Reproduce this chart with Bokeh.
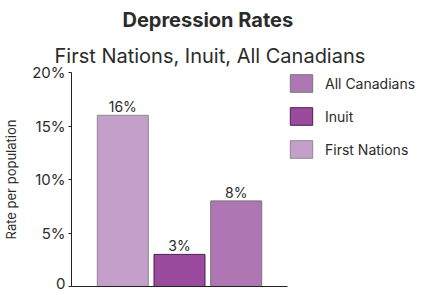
from bokeh.plotting import figure
from bokeh.models import (FactorRange, Range1d, FixedTicker, Title, Legend, LegendItem,
                          ColumnDataSource, LabelSet)
from bokeh.core.properties import value
from bokeh.embed import file_html
from bokeh.resources import INLINE

categories = ["First Nations", "Inuit", "All Canadians"]
rates = [16, 3, 8]
value_labels = ["16%", "3%", "8%"]
fill_colors = ["#C49FCA", "#9B4B9E", "#AE77B3"]
line_colors = ["#8a8a8a", "#4a2050", "#777777"]
y_ticks = [0, 5, 10, 15, 20]
y_tick_labels = {0: "0", 5: "5%", 10: "10%", 15: "15%", 20: "20%"}

FONT = "Inter"
TXT = "#2b2b2b"
FRAME_W = 216
FRAME_H = 214

p = figure(frame_width=FRAME_W, frame_height=FRAME_H, output_backend="svg",
           toolbar_location=None,
           x_range=FactorRange(*categories, range_padding=0.27),
           y_range=Range1d(0, 20))
p.title = None
p.min_border_left = 71
p.min_border_bottom = 2
p.min_border_top = 0
p.min_border_right = 0
p.outline_line_color = None
p.grid.visible = False
p.background_fill_color = "white"
p.border_fill_color = "white"

renderers = []
for i, cat in enumerate(categories):
    src = ColumnDataSource(dict(x=[cat], top=[rates[i]]))
    r = p.vbar(x="x", top="top", width=0.9, source=src,
               fill_color=fill_colors[i], line_color=line_colors[i], line_width=1)
    renderers.append(r)

lab_src = ColumnDataSource(dict(x=categories, y=rates, t=value_labels))
p.add_layout(LabelSet(x="x", y="y", text="t", source=lab_src, text_align="center",
                      text_baseline="bottom", y_offset=0, text_font=value(FONT),
                      text_font_size="14px", text_color=TXT))

# axes
p.yaxis.ticker = FixedTicker(ticks=y_ticks)
p.yaxis.major_label_overrides = y_tick_labels
p.yaxis.minor_tick_line_color = None
p.yaxis.major_tick_out = 3
p.yaxis.major_tick_in = 0
p.yaxis.major_label_standoff = 3
p.yaxis.major_label_text_font = FONT
p.yaxis.major_label_text_font_size = "15px"
p.yaxis.major_label_text_color = TXT
p.yaxis.axis_line_color = "#222222"
p.yaxis.major_tick_line_color = "#222222"
p.yaxis.axis_label = "Rate per population"
p.yaxis.axis_label_text_font = FONT
p.yaxis.axis_label_text_font_size = "13px"
p.yaxis.axis_label_text_font_style = "normal"
p.yaxis.axis_label_text_color = TXT
p.yaxis.axis_label_standoff = 10

p.xaxis.major_label_text_font_size = "0px"
p.xaxis.major_tick_line_color = None
p.xaxis.minor_tick_line_color = None
p.xaxis.axis_line_color = "#222222"
p.xaxis.major_label_standoff = 0

# legend
items = [LegendItem(label=categories[i], renderers=[renderers[i]]) for i in [2, 1, 0]]
leg = Legend(items=items, location="top_left", glyph_width=28,
             glyph_height=22, spacing=11, label_text_font=FONT,
             label_text_font_size="14px", label_text_color=TXT,
             border_line_color=None, background_fill_alpha=0,
             label_standoff=10, padding=0, margin=0)
p.add_layout(leg, "right")

# titles
sub = Title(text="First Nations, Inuit, All Canadians", align="left", offset=-17,
            text_font=FONT, text_font_size="20px", text_font_style="normal",
            text_color=TXT)
main = Title(text="Depression Rates", align="left", offset=51, text_font=FONT,
             text_font_size="20px", text_font_style="bold", text_color=TXT)
p.add_layout(sub, "above")
p.add_layout(main, "above")

open("out.html", "w").write(file_html(p, INLINE))
